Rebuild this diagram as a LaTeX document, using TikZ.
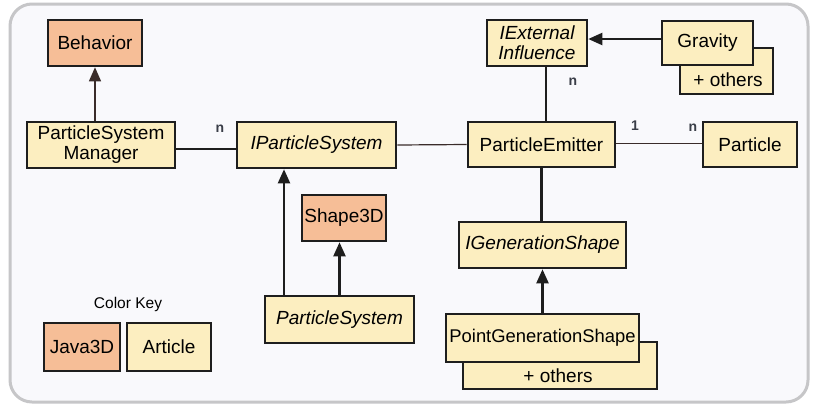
\documentclass[tikz,border=0pt]{standalone}
\usepackage{fontspec}
\setmainfont{Liberation Sans}
\usetikzlibrary{calc,arrows.meta}
\definecolor{article}{HTML}{FCEEC0}
\definecolor{javafill}{HTML}{F6BE97}
\definecolor{framegray}{HTML}{C6C6C8}
\definecolor{panel}{HTML}{F9F9FC}
\definecolor{ink}{HTML}{1E1E1E}
\definecolor{thinink}{HTML}{3A2C2A}
\definecolor{labelink}{HTML}{3A3E48}
\begin{document}
\begin{tikzpicture}[x=1pt,y=-1pt,
  box/.style={draw=ink,line width=2.6pt,inner sep=0pt,align=center,
    font=\fontsize{19}{20}\selectfont},
  artbox/.style={box,fill=article},
  javabox/.style={box,fill=javafill},
  thick link/.style={draw=ink,line width=2.2pt},
  thin link/.style={draw=thinink,line width=1.2pt},
  inherit/.style={-{Triangle[length=14pt,width=12pt]}},
  mult/.style={font=\fontsize{14}{14}\selectfont\bfseries,text=labelink,inner sep=0pt}]
  % page and panel
  \useasboundingbox (0,0) rectangle (813,405);
  \fill[white] (0,0) rectangle (813,405);
  \draw[framegray,line width=3pt,fill=panel,rounded corners=22pt] (10,4) rectangle (808,402);

  % classes
  \node[javabox,minimum width=94pt,minimum height=46pt] (beh) at (95,43) {Behavior};
  \node[artbox,minimum width=148pt,minimum height=46pt] (psm) at (101,145) {ParticleSystem\\Manager};
  \node[artbox,minimum width=159pt,minimum height=46pt] (ips) at (316.5,145) {\itshape IParticleSystem};
  \node[artbox,minimum width=100pt,minimum height=46pt] (iext) at (537,43) {\itshape IExternal\\\itshape Influence};
  \node[artbox,minimum width=93pt,minimum height=46pt] (gravo) at (726.5,71) {};
  \node[font=\fontsize{19}{20}\selectfont,inner sep=0pt] (gravot) at (728,80) {+ others};
  \node[artbox,minimum width=91pt,minimum height=44pt] (grav) at (707.5,43) {Gravity};
  \node[artbox,minimum width=147pt,minimum height=45pt] (pe) at (541.5,144.5) {ParticleEmitter};
  \node[artbox,minimum width=94pt,minimum height=45pt] (part) at (750,144.5) {Particle};
  \node[artbox,minimum width=167pt,minimum height=46pt] (igs) at (542.5,245) {\itshape IGenerationShape};
  \node[artbox,minimum width=194pt,minimum height=47pt] (pgso) at (560,365.5) {};
  \node[font=\fontsize{19}{20}\selectfont,inner sep=0pt] (pgsot) at (558,375.5) {+ others};
  \node[artbox,minimum width=193pt,minimum height=48pt,font=\fontsize{18.4}{19}\selectfont] (pgs) at (542.5,338) {PointGenerationShape};
  \node[javabox,minimum width=84pt,minimum height=46pt] (s3d) at (344,218) {Shape3D};
  \node[artbox,minimum width=149pt,minimum height=47pt] (ps) at (339.5,319.5) {\itshape ParticleSystem};

  % colour key
  \node[font=\fontsize{15.5}{16}\selectfont,inner sep=0pt] (key) at (128,304) {Color Key};
  \node[javabox,minimum width=76pt,minimum height=48pt] (kjava) at (82,347) {Java3D};
  \node[artbox,minimum width=84pt,minimum height=48pt] (kart) at (169,347) {Article};

  % associations
  \draw[thick link] ($(psm.east)+(0,4)$) -- ($(ips.west)+(0,4)$);
  \draw[thin link] (ips.east) -- (pe.west);
  \draw[thin link] ($(pe.east)+(0,-1)$) -- ($(part.west)+(0,-1)$);
  \draw[thick link] ($(iext.south)+(9,0)$) coordinate (ie) -- (ie |- pe.north);
  \draw[thick link] (pe.south) -- (pe.south |- igs.north);

  % generalisations
  \draw[thin link,inherit] (beh.south |- psm.north) -- (beh.south);
  \draw[thick link,inherit] ($(grav.west)+(0,-4)$) coordinate (gw) -- (gw -| iext.east);
  \draw[thick link,inherit] (pgs.north) -- (pgs.north |- igs.south);
  \draw[thick link,inherit] ($(ps.north)+(-55.5,0)$) coordinate (pn) -- (pn |- ips.south);
  \draw[thick link,inherit] (ps.north) -- (ps.north |- s3d.south);

  % multiplicities
  \node[mult] (m1) at (220,129) {n};
  \node[mult] (m2) at (573,82) {n};
  \node[mult] (m3) at (635,126) {1};
  \node[mult] (m4) at (693,128) {n};
\end{tikzpicture}
\end{document}
